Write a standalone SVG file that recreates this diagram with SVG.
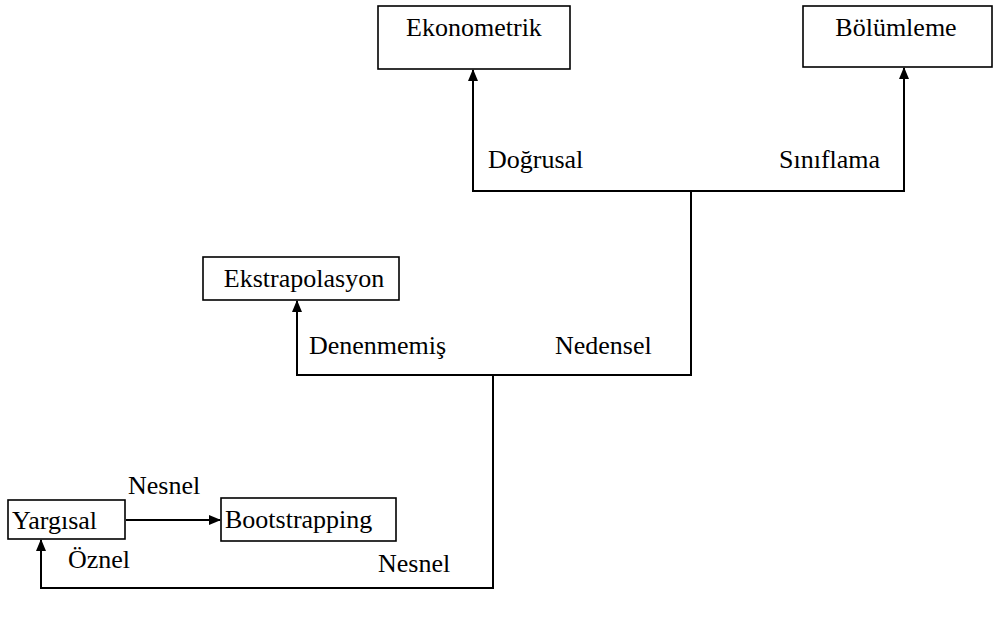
<svg xmlns="http://www.w3.org/2000/svg" width="994" height="623" viewBox="0 0 994 623">
<defs>
<marker id="ah" markerWidth="12" markerHeight="10" refX="11" refY="5" orient="auto" markerUnits="userSpaceOnUse">
<path d="M0,0 L12,5 L0,10 z" fill="#000"/>
</marker>
<style>
.box{fill:#fff;stroke:#000;stroke-width:1.6}
.t{font-family:'Liberation Serif','Times New Roman',serif;font-size:26px;fill:#000}
.c{fill:none;stroke:#000;stroke-width:2}
</style>
</defs>
<rect width="994" height="623" fill="#fff"/>
<g id="connectors">
<path class="c" d="M473,191 L473,70" marker-end="url(#ah)"/>
<path class="c" d="M904,191 L904,68" marker-end="url(#ah)"/>
<path class="c" d="M472,191 L905,191"/>
<path class="c" d="M691,191 L691,375"/>
<path class="c" d="M297,375 L297,301" marker-end="url(#ah)"/>
<path class="c" d="M296,375 L692,375"/>
<path class="c" d="M493,375 L493,588"/>
<path class="c" d="M41,588 L41,540" marker-end="url(#ah)"/>
<path class="c" d="M40,588 L494,588"/>
<path class="c" d="M126,520 L220,520" marker-end="url(#ah)"/>
<text class="t" x="488" y="168">Doğrusal</text>
<text class="t" x="779" y="168">Sınıflama</text>
<text class="t" x="309" y="354">Denenmemiş</text>
<text class="t" x="555" y="354">Nedensel</text>
<text class="t" x="128" y="494">Nesnel</text>
<text class="t" x="68" y="568">Öznel</text>
<text class="t" x="378" y="572">Nesnel</text>
</g>
<g id="ekonometrik">
<rect class="box" x="378" y="6" width="192" height="63"/>
<text class="t" x="474" y="36" text-anchor="middle">Ekonometrik</text>
</g>
<g id="bolumleme">
<rect class="box" x="803" y="6" width="189" height="61"/>
<text class="t" x="896" y="36" text-anchor="middle">Bölümleme</text>
</g>
<g id="ekstrapolasyon">
<rect class="box" x="203" y="257" width="196" height="43"/>
<text class="t" x="304" y="287" text-anchor="middle">Ekstrapolasyon</text>
</g>
<g id="yargisal">
<rect class="box" x="8" y="500" width="117" height="39"/>
<text class="t" x="12" y="529">Yargısal</text>
</g>
<g id="bootstrapping">
<rect class="box" x="221" y="498" width="175" height="43"/>
<text class="t" x="225" y="528">Bootstrapping</text>
</g>
</svg>
